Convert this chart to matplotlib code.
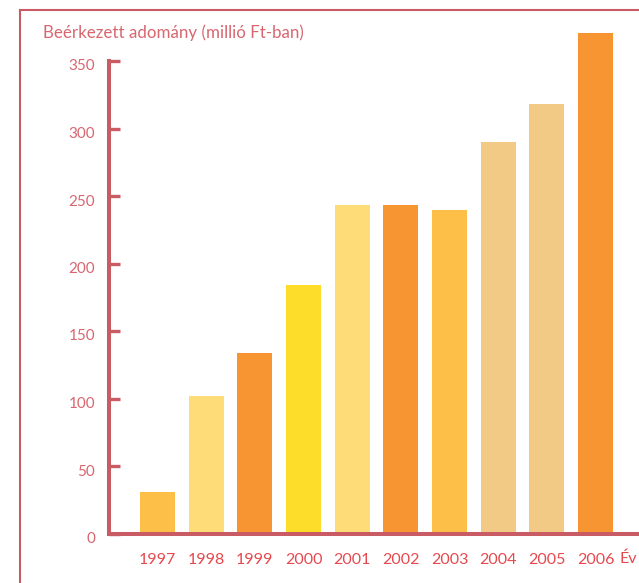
import numpy as np
import matplotlib.pyplot as plt
from matplotlib.lines import Line2D
from matplotlib.transforms import ScaledTranslation

# Adatok
evek = ['1997', '1998', '1999', '2000', '2001', '2002', '2003', '2004', '2005', '2006']
adomany = [31, 102, 134, 184, 243, 243, 240, 290, 318, 371]
szinek = ['#FDBF47', '#FEDC78', '#F79532', '#FEDD2A', '#FEDC78',
          '#F79532', '#FDBF47', '#F2CA85', '#F2CA85', '#F79532']
y_ticks = [0, 50, 100, 150, 200, 250, 300, 350]

tengely_szin = '#C95B65'
cimke_szin = '#D8666F'
ev_szin = '#E6484E'

plt.rcParams['font.family'] = ['Lato', 'DejaVu Sans']

fig = plt.figure(figsize=(6.39, 5.83), dpi=100)

# Axes: left spine at x=109px, y=0 at 533.5px, 1.35 px per unit
ax = fig.add_axes([109/639, (583-533.5)/583, 1-109/639, 380*1.35/583])

x = np.arange(len(evek))
ax.bar(x, adomany, width=0.72, color=szinek, zorder=2)

ax.set_xlim(-0.996, 9.893)
ax.set_ylim(0, 380)

for s in ['top', 'right']:
    ax.spines[s].set_visible(False)
for s in ['left', 'bottom']:
    ax.spines[s].set_color(tengely_szin)
    ax.spines[s].set_linewidth(2.9)
    ax.spines[s].set_capstyle('projecting')
    ax.spines[s].set_zorder(3)
ax.spines['left'].set_bounds(0, 350)

ax.set_yticks(y_ticks)
ax.set_yticklabels([str(v) for v in y_ticks])
ax.tick_params(axis='y', direction='in', length=8, width=2.4, color=tengely_szin,
               labelcolor=cimke_szin, labelsize=11, pad=10)
for lab in ax.get_yticklabels():
    lab.set_transform(lab.get_transform() + ScaledTranslation(0, -0.04, fig.dpi_scale_trans))

ax.set_xticks(x)
ax.set_xticklabels(evek)
ax.tick_params(axis='x', length=0, labelcolor=ev_szin, labelsize=11.5, pad=14)
ax.text(9.5, -0.05, 'Év', transform=ax.get_xaxis_transform(), ha='left', va='center',
        color=ev_szin, fontsize=11.5, clip_on=False)

# Keret
fig.add_artist(Line2D([20/639, 20/639], [0, 1-10/583], color=tengely_szin, lw=1.5,
                      transform=fig.transFigure))
fig.add_artist(Line2D([20/639, 1], [1-10/583, 1-10/583], color=tengely_szin, lw=1.5,
                      transform=fig.transFigure))

fig.text(43/639, 1-33/583, 'Beérkezett adomány (millió Ft-ban)', color=cimke_szin,
         fontsize=12.2, ha='left', va='center')

fig.savefig('out.png', dpi=100)
